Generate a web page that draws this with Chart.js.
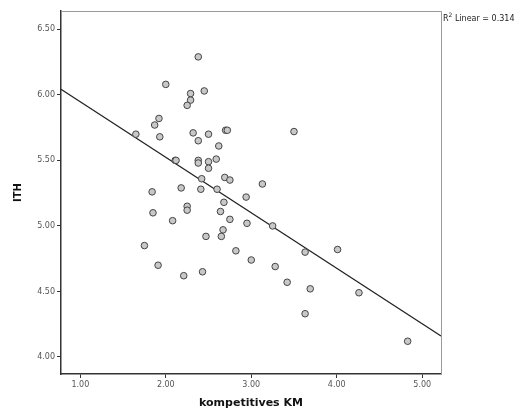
<!DOCTYPE html>
<html>
<head>
<meta charset="utf-8">
<script src="https://cdn.jsdelivr.net/npm/chart.js@4"></script>
<style>
  body { margin: 0; background: #fff; }
  #wrap { width: 528px; height: 412px; }
</style>
</head>
<body>
<div id="wrap"><canvas id="chart"></canvas></div>
<script>
// points (kompetitives KM, ITH)
const kmValues = [1.65, 2.38, 2.00, 2.29, 2.45, 2.29, 2.25, 1.92, 1.87, 1.93, 2.32, 2.38, 2.50, 2.70, 2.72, 2.62,
  2.11, 2.12, 2.38, 2.38, 2.50, 2.50, 2.59, 2.42, 2.69, 2.75, 3.13, 1.84, 2.18, 2.41, 2.60, 2.94, 3.50,
  2.68, 1.85, 2.25, 2.25, 2.64, 2.08, 2.75, 2.95, 3.25, 2.67, 2.65, 2.47, 1.75, 2.82, 3.00, 3.28, 1.91,
  2.21, 2.43, 3.42, 3.63, 4.01, 3.69, 4.26, 3.63, 4.83];
const ithValues = [5.70, 6.29, 6.08, 6.01, 6.03, 5.96, 5.92, 5.82, 5.77, 5.68, 5.71, 5.65, 5.70, 5.73, 5.73, 5.61,
  5.50, 5.50, 5.50, 5.48, 5.49, 5.44, 5.51, 5.36, 5.37, 5.35, 5.32, 5.26, 5.29, 5.28, 5.28, 5.22, 5.72,
  5.18, 5.10, 5.15, 5.12, 5.11, 5.04, 5.05, 5.02, 5.00, 4.97, 4.92, 4.92, 4.85, 4.81, 4.74, 4.69, 4.70,
  4.62, 4.65, 4.57, 4.80, 4.82, 4.52, 4.49, 4.33, 4.12];
// fit line
const fitSlope = -0.4233;
const fitIntercept = 6.37;
const rSquared = "0.314";
const xTicks = [1, 2, 3, 4, 5];
const yTicks = [4.0, 4.5, 5.0, 5.5, 6.0, 6.5];
const xRange = [0.774, 5.22];
const yRange = [3.87, 6.64];

const points = kmValues.map((v, i) => ({ x: v, y: ithValues[i] }));
const fitLine = xRange.map(x => ({ x: x, y: fitIntercept + fitSlope * x }));

const frame = {
  id: "frame",
  afterDatasetsDraw(chart) {
    const { ctx, chartArea: a } = chart;
    ctx.save();
    ctx.strokeStyle = "#9a9a9a";
    ctx.lineWidth = 1;
    ctx.beginPath();
    ctx.moveTo(a.left, a.top + 0.5);
    ctx.lineTo(a.right + 0.5, a.top + 0.5);
    ctx.lineTo(a.right + 0.5, a.bottom);
    ctx.stroke();
    // R² label
    ctx.fillStyle = "#222";
    ctx.textBaseline = "alphabetic";
    ctx.font = "8px 'DejaVu Sans'";
    let x = a.right + 2;
    ctx.fillText("R", x, 21);
    x += ctx.measureText("R").width;
    ctx.font = "6px 'DejaVu Sans'";
    ctx.fillText("2", x, 17);
    x += ctx.measureText("2").width;
    ctx.font = "8px 'DejaVu Sans'";
    ctx.fillText(" Linear = " + rSquared, x, 21);
    ctx.restore();
  }
};

const tickFont = { family: "'DejaVu Sans'", size: 8 };

new Chart(document.getElementById("chart"), {
  type: "scatter",
  data: {
    datasets: [
      {
        data: points,
        pointRadius: 3.3,
        pointHoverRadius: 3.3,
        pointBackgroundColor: "#c8c8c8",
        pointBorderColor: "#444",
        pointBorderWidth: 1,
        order: 1
      },
      {
        data: fitLine,
        showLine: true,
        pointRadius: 0,
        borderColor: "#222",
        borderWidth: 1.2,
        order: 2
      }
    ]
  },
  options: {
    responsive: true,
    maintainAspectRatio: false,
    animation: false,
    layout: { padding: { top: 11, right: 87, left: 0, bottom: 0 } },
    plugins: { legend: { display: false }, tooltip: { enabled: false } },
    scales: {
      x: {
        type: "linear",
        min: xRange[0],
        max: xRange[1],
        afterBuildTicks: s => { s.ticks = xTicks.map(v => ({ value: v })); },
        afterFit: s => { s.height = 38; },
        ticks: { color: "#555", font: tickFont, padding: 2, callback: v => v.toFixed(2) },
        grid: { drawOnChartArea: false, drawTicks: true, tickLength: 4, tickColor: "#333" },
        border: { display: true, color: "#333", width: 1.5 },
        title: {
          display: true, text: "kompetitives KM", color: "#111",
          font: { family: "'DejaVu Sans'", size: 11, weight: "bold" },
          padding: { top: 0, bottom: 2 }
        }
      },
      y: {
        type: "linear",
        min: yRange[0],
        max: yRange[1],
        afterBuildTicks: s => { s.ticks = yTicks.map(v => ({ value: v })); },
        afterFit: s => { s.width = 61; },
        ticks: { color: "#555", font: tickFont, padding: 2, callback: v => v.toFixed(2) },
        grid: { drawOnChartArea: false, drawTicks: true, tickLength: 4, tickColor: "#333" },
        border: { display: true, color: "#333", width: 1.5 },
        title: {
          display: true, text: "ITH", color: "#111",
          font: { family: "'DejaVu Sans'", size: 10, weight: "bold" },
          padding: { top: 12, bottom: 0 }
        }
      }
    }
  },
  plugins: [frame]
});
</script>
</body>
</html>
